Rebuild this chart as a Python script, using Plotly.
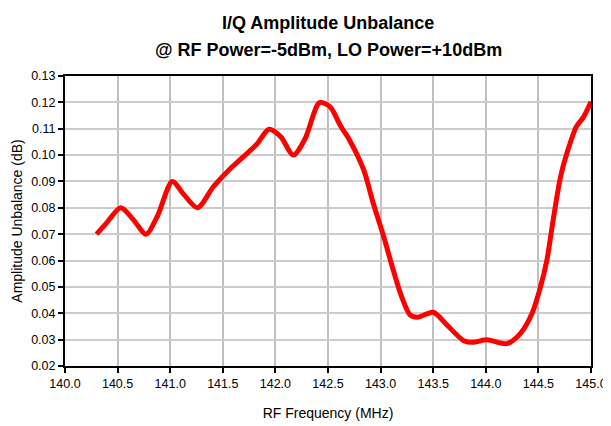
import plotly.graph_objects as go

freq_mhz = [140.30, 140.40, 140.53, 140.65, 140.77, 140.88, 141.02, 141.13, 141.26, 141.41,
            141.55, 141.70, 141.82, 141.94, 142.05, 142.17, 142.28, 142.42, 142.52, 142.62,
            142.70, 142.84, 142.93, 143.03, 143.12, 143.20, 143.28, 143.35, 143.50, 143.63,
            143.79, 143.88, 144.01, 144.20, 144.33, 144.44, 144.52, 144.58, 144.64, 144.71,
            144.77, 144.86, 144.93, 145.00]
unbalance_db = [0.070, 0.0745, 0.080, 0.0755, 0.070, 0.077, 0.090, 0.085, 0.080, 0.088,
                0.094, 0.0995, 0.104, 0.1098, 0.107, 0.100, 0.106, 0.1199, 0.1183, 0.111,
                0.106, 0.0943, 0.0817, 0.069, 0.0564, 0.0463, 0.0394, 0.0385, 0.0404, 0.0356,
                0.0296, 0.029, 0.0300, 0.0285, 0.0324, 0.040, 0.050, 0.060, 0.0753, 0.0917,
                0.1006, 0.1107, 0.1145, 0.1202]

x_ticks = [140.0, 140.5, 141.0, 141.5, 142.0, 142.5, 143.0, 143.5, 144.0, 144.5, 145.0]
y_ticks = [0.02, 0.03, 0.04, 0.05, 0.06, 0.07, 0.08, 0.09, 0.10, 0.11, 0.12, 0.13]
title_lines = ["I/Q Amplitude Unbalance", "@ RF Power=-5dBm, LO Power=+10dBm"]

fig = go.Figure(go.Scatter(
    x=freq_mhz, y=unbalance_db, mode="lines",
    line=dict(color="#ff0000", width=5, shape="spline", smoothing=0.8),
    showlegend=False, hoverinfo="skip"))

font_family = "Liberation Sans, Arial, sans-serif"
W, H = 603, 418
L, T, R, B = 57, 68, 19.5, 59.7
plot_h = H - T - B
fig.update_layout(
    width=W, height=H,
    margin=dict(l=L, r=R, t=T, b=B, autoexpand=False),
    paper_bgcolor="white", plot_bgcolor="white",
    font=dict(family=font_family, color="black", size=12.5),
)
for txt, ypix in zip(title_lines, [14.5, 42]):
    fig.add_annotation(text=f"<b>{txt}</b>", xref="paper", x=0.5, xanchor="center",
                       yref="paper", y=1 + (T - ypix) / plot_h, yanchor="middle",
                       showarrow=False, font=dict(size=18, family=font_family, color="black"))
fig.update_xaxes(
    range=[140.0, 145.0], tickvals=x_ticks, ticktext=[f"{v:.1f}" for v in x_ticks],
    showgrid=True, gridcolor="#c0c0c0", gridwidth=2,
    showline=True, linecolor="black", linewidth=2, mirror=True,
    ticks="outside", ticklen=5, tickcolor="black", tickwidth=2,
    zeroline=False, automargin=False,
    title=dict(text="RF Frequency (MHz)", font=dict(size=14), standoff=18),
)
fig.update_yaxes(
    range=[0.02, 0.13], tickvals=y_ticks, ticktext=[f"{v:.2f}" for v in y_ticks],
    showgrid=True, gridcolor="#cccccc", gridwidth=1.5,
    showline=True, linecolor="black", linewidth=2, mirror=True,
    ticks="outside", ticklen=5, tickcolor="black", tickwidth=2,
    zeroline=False, automargin=False,
    title=dict(text="Amplitude Unbalance (dB)", font=dict(size=14), standoff=5),
)

fig.write_html("out.html")
